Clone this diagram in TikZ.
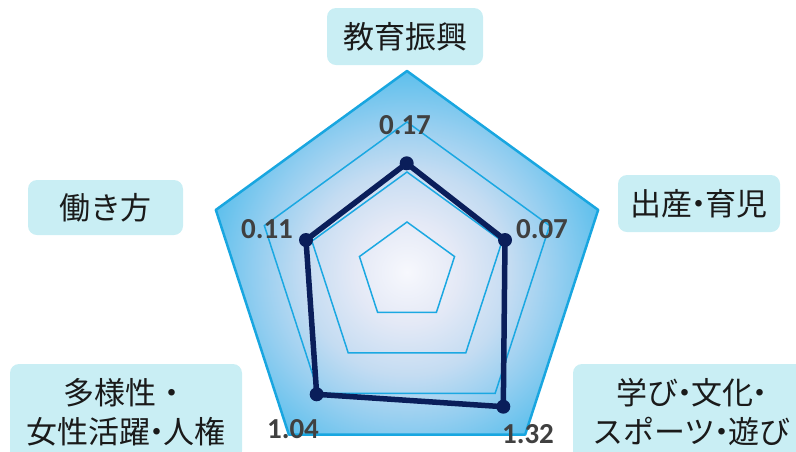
\documentclass[tikz,border=0pt]{standalone}
\usepackage{fontspec}
\setmainfont{Carlito}
\newfontfamily\jp{Noto Sans CJK JP}
\usetikzlibrary{shapes.geometric}
\definecolor{ringc}{HTML}{1BA8E2}
\definecolor{outerc}{HTML}{18A6E0}
\definecolor{datac}{HTML}{0A1E5A}
\definecolor{valc}{HTML}{404040}
\definecolor{boxc}{HTML}{C9EEF4}
\definecolor{txtc}{HTML}{1A1A1A}
\definecolor{sc0}{HTML}{F7F8FD}
\definecolor{sc1}{HTML}{E4E9F6}
\definecolor{sc2}{HTML}{C4DCF2}
\definecolor{sc3}{HTML}{94CEF0}
\definecolor{sc4}{HTML}{5CBFEC}
\pgfdeclareradialshading{radarfill}{\pgfpoint{0bp}{0bp}}{color(0bp)=(sc0); color(6bp)=(sc1); color(12bp)=(sc2); color(17.5bp)=(sc3); color(23.5bp)=(sc4); color(25bp)=(sc4); color(50bp)=(sc4)}
\newcommand\ndot{\makebox[13pt]{・}}
\begin{document}
\begin{tikzpicture}[x=1pt,y=-1pt,
  pent/.style={regular polygon, regular polygon sides=5, inner sep=0pt, outer sep=0pt},
  ringline/.style={pent, draw=ringc, line width=1.5pt},
  dataline/.style={draw=datac, line width=5.5pt, line join=round},
  datadot/.style={circle, fill=datac, minimum size=14pt, inner sep=0pt},
  val/.style={font=\fontsize{29pt}{30pt}\selectfont\bfseries, text=valc, inner sep=0pt},
  cat/.style={fill=boxc, rounded corners=9pt, text=txtc, align=center, inner sep=0pt,
    font=\jp\fontsize{31pt}{39pt}\selectfont}]
\useasboundingbox (0,0) rectangle (796,451);
\coordinate (c) at (407,272);
% filled outer pentagon
\node[pent, minimum size=402pt] (r4) at (c) {};
\begin{scope}
\clip (r4.corner 1) -- (r4.corner 2) -- (r4.corner 3) -- (r4.corner 4) -- (r4.corner 5) -- cycle;
\shade[shading=radarfill] (c) circle [radius=215pt];
\end{scope}
\draw[outerc, line width=2.5pt, line join=round] (r4.corner 1) -- (r4.corner 2) -- (r4.corner 3) -- (r4.corner 4) -- (r4.corner 5) -- cycle;
% grid rings
\node[ringline, minimum size=100pt] (r1) at (c) {};
\node[ringline, minimum size=200pt] (r2) at (c) {};
\node[ringline, minimum size=300pt] (r3) at (c) {};
% data
\coordinate (p1) at (406.7,163.3);
\coordinate (p2) at (505,240);
\coordinate (p3) at (503.3,406.7);
\coordinate (p4) at (316.7,394.3);
\coordinate (p5) at (306,240);
\draw[dataline] (p1) -- (p2) -- (p3) -- (p4) -- (p5) -- cycle;
\node[datadot] (d1) at (p1) {};
\node[datadot] (d2) at (p2) {};
\node[datadot] (d3) at (p3) {};
\node[datadot] (d4) at (p4) {};
\node[datadot] (d5) at (p5) {};
% values
\node[val] (v1) at (405,125) {0.17};
\node[val] (v2) at (542,229) {0.07};
\node[val] (v3) at (528,434) {1.32};
\node[val] (v4) at (293,429) {1.04};
\node[val] (v5) at (267,229) {0.11};
% categories
\node[cat, minimum width=156pt, minimum height=57pt] (k1) at (405,36.5) {教育振興};
\node[cat, minimum width=162pt, minimum height=57pt] (k2) at (699,203.5) {出産\ndot 育児};
\node[cat, minimum width=237pt, minimum height=96pt] (k3) at (691.5,412) {学び\ndot 文化\ndot\\スポーツ\ndot 遊び};
\node[cat, minimum width=232pt, minimum height=96pt] (k4) at (126,412) {多様性・\\女性活躍\ndot 人権};
\node[cat, minimum width=155pt, minimum height=55pt] (k5) at (105.5,207.5) {働き方};
\end{tikzpicture}
\end{document}
